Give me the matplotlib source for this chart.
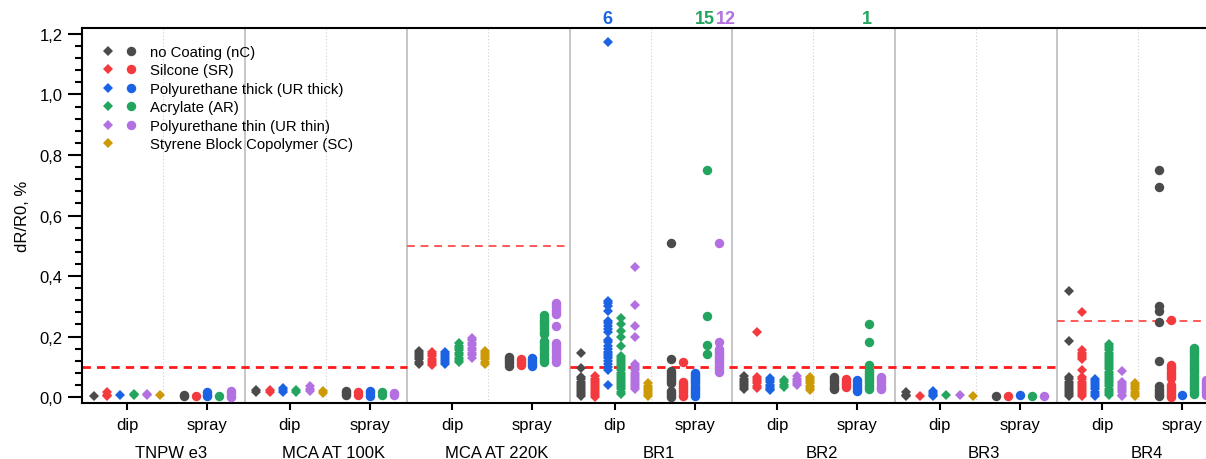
import matplotlib
matplotlib.use('Agg')
import matplotlib.pyplot as plt
from matplotlib.lines import Line2D
from matplotlib.legend_handler import HandlerTuple
from matplotlib.ticker import MultipleLocator, FuncFormatter
import matplotlib.transforms as mtransforms

plt.rcParams['font.family'] = ['Liberation Sans', 'DejaVu Sans']

# ---------------- data ----------------
groups = ['TNPW e3', 'MCA AT 100K', 'MCA AT 220K', 'BR1', 'BR2', 'BR3', 'BR4']
methods = ['dip', 'spray']
coating_keys = ['nC', 'SR', 'UR thick', 'AR', 'UR thin', 'SC']
coating_labels = ['no Coating (nC)', 'Silcone (SR)', 'Polyurethane thick (UR thick)',
                  'Acrylate (AR)', 'Polyurethane thin (UR thin)', 'Styrene Block Copolymer (SC)']
coating_colors = ['#4b4b4b', '#f23a3f', '#1b63e2', '#23a45f', '#b370e0', '#cc9a06']

# thresholds per group (red dashed lines)
thresholds = [0.1, 0.1, 0.5, 0.1, 0.1, 0.1, 0.25]

# dip values, one list per group (TNPW e3 ... BR4)
nC_dip = [[0.004], [0.022, 0.015],
          [0.152, 0.145, 0.138, 0.131, 0.124, 0.117, 0.11],
          [0.145, 0.097, 0.065, 0.058, 0.051, 0.044, 0.037, 0.03, 0.023, 0.016, 0.009, 0.003],
          [0.068, 0.061, 0.054, 0.047, 0.04, 0.033, 0.026],
          [0.015, 0.008, 0.002],
          [0.35, 0.185, 0.065, 0.058, 0.051, 0.044, 0.037, 0.03, 0.023, 0.016, 0.009, 0.003]]
SR_dip = [[0.015, 0.008, 0.003], [0.022, 0.016],
          [0.148, 0.141, 0.134, 0.127, 0.12, 0.113, 0.106],
          [0.068, 0.061, 0.054, 0.047, 0.04, 0.033, 0.026, 0.019, 0.012, 0.005, 0.0],
          [0.216, 0.066, 0.059, 0.052, 0.045, 0.038, 0.031],
          [0.003],
          [0.28, 0.155, 0.147, 0.14, 0.132, 0.125, 0.09, 0.065, 0.058, 0.051, 0.044,
           0.037, 0.03, 0.023, 0.016, 0.009, 0.003]]
URthick_dip = [[0.005], [0.03, 0.023, 0.016],
               [0.15, 0.143, 0.136, 0.129, 0.122, 0.115, 0.109],
               [1.175, 0.318, 0.31, 0.30, 0.285, 0.25, 0.243, 0.236, 0.225, 0.215, 0.19,
                0.182, 0.17, 0.16, 0.15, 0.143, 0.137, 0.128, 0.12, 0.109, 0.099, 0.09, 0.04],
               [0.062, 0.055, 0.048, 0.041, 0.034, 0.027, 0.022],
               [0.02, 0.014, 0.008, 0.003],
               [0.06, 0.053, 0.046, 0.039, 0.032, 0.025, 0.018, 0.011, 0.004]]
AR_dip = [[0.01, 0.006], [0.022, 0.017],
          [0.178, 0.17, 0.162, 0.154, 0.146, 0.138, 0.13, 0.122, 0.116],
          [0.26, 0.24, 0.219, 0.2, 0.17, 0.137, 0.13, 0.123, 0.116, 0.109, 0.102, 0.095,
           0.088, 0.081, 0.074, 0.067, 0.06, 0.053, 0.046, 0.039, 0.032, 0.025, 0.018, 0.011],
          [0.055, 0.048, 0.041, 0.034],
          [0.005],
          [0.175, 0.168, 0.161, 0.154, 0.147, 0.14, 0.133, 0.126, 0.119, 0.112, 0.105, 0.098,
           0.091, 0.084, 0.077, 0.07, 0.063, 0.056, 0.049, 0.042, 0.035, 0.028, 0.021,
           0.014, 0.007]]
URthin_dip = [[0.011, 0.006], [0.036, 0.028, 0.02],
              [0.195, 0.187, 0.179, 0.171, 0.163, 0.155, 0.147, 0.139, 0.13],
              [0.429, 0.304, 0.236, 0.2, 0.109, 0.102, 0.095, 0.088, 0.081, 0.074, 0.067,
               0.06, 0.053, 0.046, 0.039, 0.032, 0.027],
              [0.068, 0.061, 0.054, 0.047, 0.04],
              [0.006],
              [0.087, 0.05, 0.043, 0.036, 0.029, 0.022, 0.015, 0.008, 0.003]]
SC_dip = [[0.005], [0.021, 0.014],
          [0.152, 0.145, 0.138, 0.131, 0.124, 0.117, 0.11],
          [0.045, 0.038, 0.031, 0.024, 0.017, 0.01, 0.003],
          [0.066, 0.059, 0.052, 0.045, 0.038, 0.031, 0.022],
          [0.003],
          [0.046, 0.039, 0.032, 0.025, 0.018, 0.011, 0.003]]

# spray values (no SC spray samples)
nC_spray = [[0.008, 0.002], [0.02, 0.012, 0.005],
            [0.132, 0.125, 0.118, 0.111, 0.104],
            [0.51, 0.125, 0.087, 0.08, 0.073, 0.066, 0.059, 0.052, 0.045, 0.02, 0.013, 0.006, 0.0],
            [0.066, 0.059, 0.052, 0.045, 0.038, 0.031, 0.025],
            [0.004],
            [0.75, 0.695, 0.30, 0.285, 0.248, 0.12, 0.035, 0.028, 0.021, 0.014, 0.007, 0.002]]
SR_spray = [[0.003], [0.016, 0.008],
            [0.125, 0.118, 0.111, 0.105],
            [0.115, 0.05, 0.043, 0.036, 0.029, 0.022, 0.015, 0.008, 0.002],
            [0.06, 0.053, 0.046, 0.039, 0.033],
            [0.004],
            [0.255, 0.105, 0.098, 0.091, 0.084, 0.077, 0.07, 0.063, 0.04, 0.033, 0.026,
             0.019, 0.012, 0.005, 0.0]]
URthick_spray = [[0.016, 0.008, 0.002], [0.02, 0.012, 0.004],
                 [0.13, 0.123, 0.116, 0.109, 0.104],
                 [0.08, 0.073, 0.066, 0.059, 0.052, 0.045, 0.038, 0.031, 0.024, 0.017,
                  0.01, 0.003],
                 [0.055, 0.048, 0.041, 0.034, 0.027, 0.02],
                 [0.005],
                 [0.005]]
AR_spray = [[0.003], [0.018, 0.008],
            [0.272, 0.264, 0.256, 0.248, 0.24, 0.232, 0.224, 0.216, 0.208, 0.186, 0.178,
             0.17, 0.162, 0.154, 0.146, 0.138, 0.13, 0.122, 0.115],
            [0.75, 0.269, 0.173, 0.142],
            [0.24, 0.183, 0.105, 0.09, 0.083, 0.076, 0.069, 0.062, 0.055, 0.048, 0.041,
             0.034, 0.027],
            [0.004],
            [0.162, 0.155, 0.148, 0.141, 0.134, 0.127, 0.12, 0.113, 0.106, 0.099, 0.092,
             0.085, 0.078, 0.071, 0.064, 0.057, 0.05, 0.043, 0.036, 0.029, 0.022, 0.015,
             0.01]]
URthin_spray = [[0.02, 0.012, 0.004, 0.0], [0.013, 0.006],
                [0.312, 0.304, 0.296, 0.288, 0.28, 0.274, 0.234, 0.18, 0.172, 0.164, 0.156,
                 0.148, 0.14, 0.132, 0.124, 0.116],
                [0.51, 0.183, 0.16, 0.153, 0.146, 0.139, 0.132, 0.125, 0.118, 0.111, 0.104,
                 0.097, 0.09, 0.082],
                [0.066, 0.059, 0.052, 0.045, 0.038, 0.031, 0.025],
                [0.004],
                [0.057, 0.05, 0.043, 0.036, 0.029, 0.022, 0.015, 0.008]]

dip_series = [nC_dip, SR_dip, URthick_dip, AR_dip, URthin_dip, SC_dip]
spray_series = [nC_spray, SR_spray, URthick_spray, AR_spray, URthin_spray]

# off-scale annotations shown above the plot
offscale_group = ['BR1', 'BR1', 'BR1', 'BR2']
offscale_method = ['dip', 'spray', 'spray', 'spray']
offscale_coating = ['UR thick', 'AR', 'UR thin', 'AR']
offscale_text = ['6', '15', '12', '1']
offscale_dx_px = [0, -2, 7, -2]

# ---------------- layout / style ----------------
W, H = 1206, 460
ax_left, ax_right, ax_top, ax_bottom = 82, 1206, 29, 404
group_px = 162.5
method_center = {'dip': 0.277, 'spray': 0.772}
method_step = {'dip': 0.082, 'spray': 0.073}
method_marker = {'dip': 'D', 'spray': 'o'}
method_ms = {'dip': 5.1, 'spray': 6.8}
PX = 0.72  # points per pixel at dpi 100

fig = plt.figure(figsize=(W / 100, H / 100), dpi=100)
ax = fig.add_axes([ax_left / W, 1 - ax_bottom / H, (ax_right - ax_left) / W, (ax_bottom - ax_top) / H])

ax.set_xlim(0, (ax_right - ax_left) / group_px)
ax.set_ylim(-0.0198, 1.2198)


def xpos(gi, method, ci, n):
    return gi + method_center[method] + (ci - (n - 1) / 2) * method_step[method]


# group separators
for i in range(1, len(groups)):
    ax.axvline(i, color='#c2c2c2', lw=1.3, zorder=0)
for i in range(len(groups)):
    ax.axvline(i + 0.5, color='#d0d0d0', lw=0.8, ls=(0, (1, 2)), zorder=0)

# threshold lines (merge consecutive equal values)
runs = []
start = 0
for i in range(1, len(thresholds) + 1):
    if i == len(thresholds) or thresholds[i] != thresholds[start]:
        runs.append((start, i, thresholds[start]))
        start = i
for s, e, v in runs:
    if v <= 0.1:
        ax.plot([s, e], [v, v], color='#ff1a1a', lw=2.0, ls=(0, (3, 2.2)), zorder=1)
    else:
        ax.plot([s, e], [v, v], color='#ff5a5a', lw=1.4, ls=(0, (4, 3)), zorder=1)

# data points
for method, series in (('dip', dip_series), ('spray', spray_series)):
    n = len(series)
    for ci, per_group in enumerate(series):
        xs, ys = [], []
        for gi, vals in enumerate(per_group):
            for v in vals:
                xs.append(xpos(gi, method, ci, n))
                ys.append(v)
        ax.plot(xs, ys, ls='none', marker=method_marker[method], ms=method_ms[method],
                color=coating_colors[ci], mew=0, zorder=3, clip_on=True)

# axes styling
for side in ('left', 'bottom', 'top'):
    ax.spines[side].set_linewidth(1.5)
ax.spines['right'].set_visible(False)

ax.yaxis.set_major_locator(MultipleLocator(0.2))
ax.yaxis.set_minor_locator(MultipleLocator(0.04))
ax.yaxis.set_major_formatter(FuncFormatter(lambda v, p: f"{v:.1f}".replace('.', ',')))
ax.tick_params(axis='y', which='major', length=10, width=1.5, labelsize=12, pad=4)
ax.tick_params(axis='y', which='minor', length=5, width=1.5)

xt, xl = [], []
for gi in range(len(groups)):
    for m in methods:
        xt.append(gi + method_center[m])
        xl.append(m)
ax.set_xticks(xt)
ax.set_xticklabels(xl)
ax.tick_params(axis='x', which='major', length=5, width=1.5, labelsize=12, pad=5)

ax.set_ylabel('dR/R0, %', fontsize=12)
ax.yaxis.set_label_coords((30 - ax_left) / (ax_right - ax_left), 0.5)

trans = mtransforms.blended_transform_factory(ax.transData, ax.transAxes)
for gi, g in enumerate(groups):
    ax.annotate(g, xy=(gi + 0.55, 0), xycoords=trans, xytext=(0, -42 * PX),
                textcoords='offset points', ha='center', va='top', fontsize=12,
                annotation_clip=False)

for g, m, c, t, dx in zip(offscale_group, offscale_method, offscale_coating,
                          offscale_text, offscale_dx_px):
    gi = groups.index(g)
    ci = coating_keys.index(c)
    n = len(dip_series) if m == 'dip' else len(spray_series)
    ax.annotate(t, xy=(xpos(gi, m, ci, n), 1), xycoords=trans,
                xytext=(dx * PX, 5 * PX), textcoords='offset points',
                ha='center', va='baseline', fontsize=13, fontweight='bold',
                color=coating_colors[ci], annotation_clip=False)

# legend
handles = []
for ci in range(len(coating_keys)):
    d = Line2D([], [], ls='none', marker='D', ms=method_ms['dip'], color=coating_colors[ci], mew=0)
    if ci < len(spray_series):
        o = Line2D([], [], ls='none', marker='o', ms=method_ms['spray'], color=coating_colors[ci], mew=0)
    else:
        o = Line2D([], [], ls='none', marker='o', ms=method_ms['spray'], color='none', mew=0)
    handles.append((d, o))
ax.legend(handles, coating_labels, handler_map={tuple: HandlerTuple(ndivide=None, pad=0)},
          frameon=False, loc='upper left',
          bbox_to_anchor=((96.5 - ax_left) / (ax_right - ax_left), 1 - 17 / (ax_bottom - ax_top)),
          borderaxespad=0, borderpad=0, handlelength=3.1, handletextpad=0.5,
          labelspacing=0.3, fontsize=10.7)

fig.savefig('out.png', dpi=100)
